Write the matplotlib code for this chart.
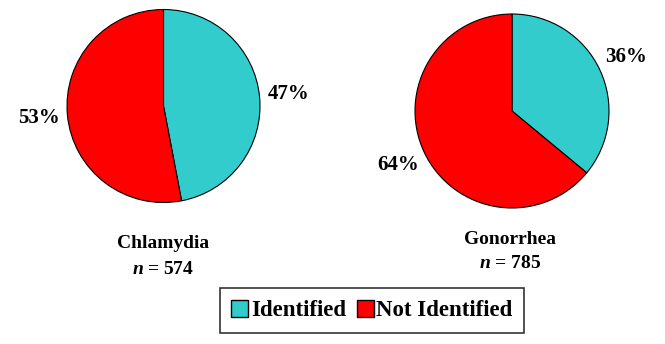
import matplotlib.pyplot as plt
from matplotlib.patches import Patch

# dados
categorias = ['Identified', 'Not Identified']
cores = ['#33CCCC', '#FF0000']
doencas = ['Chlamydia', 'Gonorrhea']
n_casos = [574, 785]
pct_chlamydia = [47, 53]
pct_gonorrhea = [36, 64]

plt.rcParams['font.family'] = ['Liberation Serif', 'DejaVu Serif']
plt.rcParams['font.weight'] = 'bold'
plt.rcParams['mathtext.fontset'] = 'custom'
plt.rcParams['mathtext.bfit'] = 'Liberation Serif:italic:bold'
plt.rcParams['mathtext.rm'] = 'Liberation Serif:bold'

W, H = 665, 344
fig = plt.figure(figsize=(W / 100, H / 100), dpi=100)

def eixo_pizza(cx, cy, r):
    # eixo quadrado em pixels, centro (cx, cy) medido de cima
    return fig.add_axes([(cx - r) / W, (H - cy - r) / H, 2 * r / W, 2 * r / H])

pizzas = [(163.5, 106, 96.5, pct_chlamydia), (512, 111, 97, pct_gonorrhea)]
for cx, cy, r, valores in pizzas:
    ax = eixo_pizza(cx, cy, r)
    ax.pie(valores, colors=cores, startangle=90, counterclock=False,
           autopct=lambda p: '%d%%' % round(p), pctdistance=1.3,
           wedgeprops=dict(edgecolor='black', linewidth=0.8),
           textprops=dict(fontsize=15, fontweight='bold', color='black'))
    ax.set_xlim(-1, 1)
    ax.set_ylim(-1, 1)
    ax.set_aspect('auto')
    ax.axis('off')

# nomes e n abaixo de cada pizza
for x, y, nome, n in [(163, 244, doencas[0], n_casos[0]), (510, 239, doencas[1], n_casos[1])]:
    fig.text(x / W, 1 - y / H, nome, ha='center', va='center', fontsize=14, fontweight='bold')
    fig.text(x / W, 1 - (y + 25) / H, r'$\mathbfit{n}$ = %d' % n, ha='center', va='center',
             fontsize=14, fontweight='bold')

handles = [Patch(facecolor=c, edgecolor='black', linewidth=1) for c in cores]
leg = fig.legend(handles, categorias, loc='center', bbox_to_anchor=(372 / W, 1 - 310.5 / H),
                 ncol=2, fontsize=16.5, frameon=True, fancybox=False, edgecolor='black',
                 handlelength=0.75, handleheight=0.75, handletextpad=0.12, columnspacing=0.45,
                 borderpad=0.5, borderaxespad=0)
leg.get_frame().set_linewidth(1.2)

fig.savefig('out.png', dpi=100)
